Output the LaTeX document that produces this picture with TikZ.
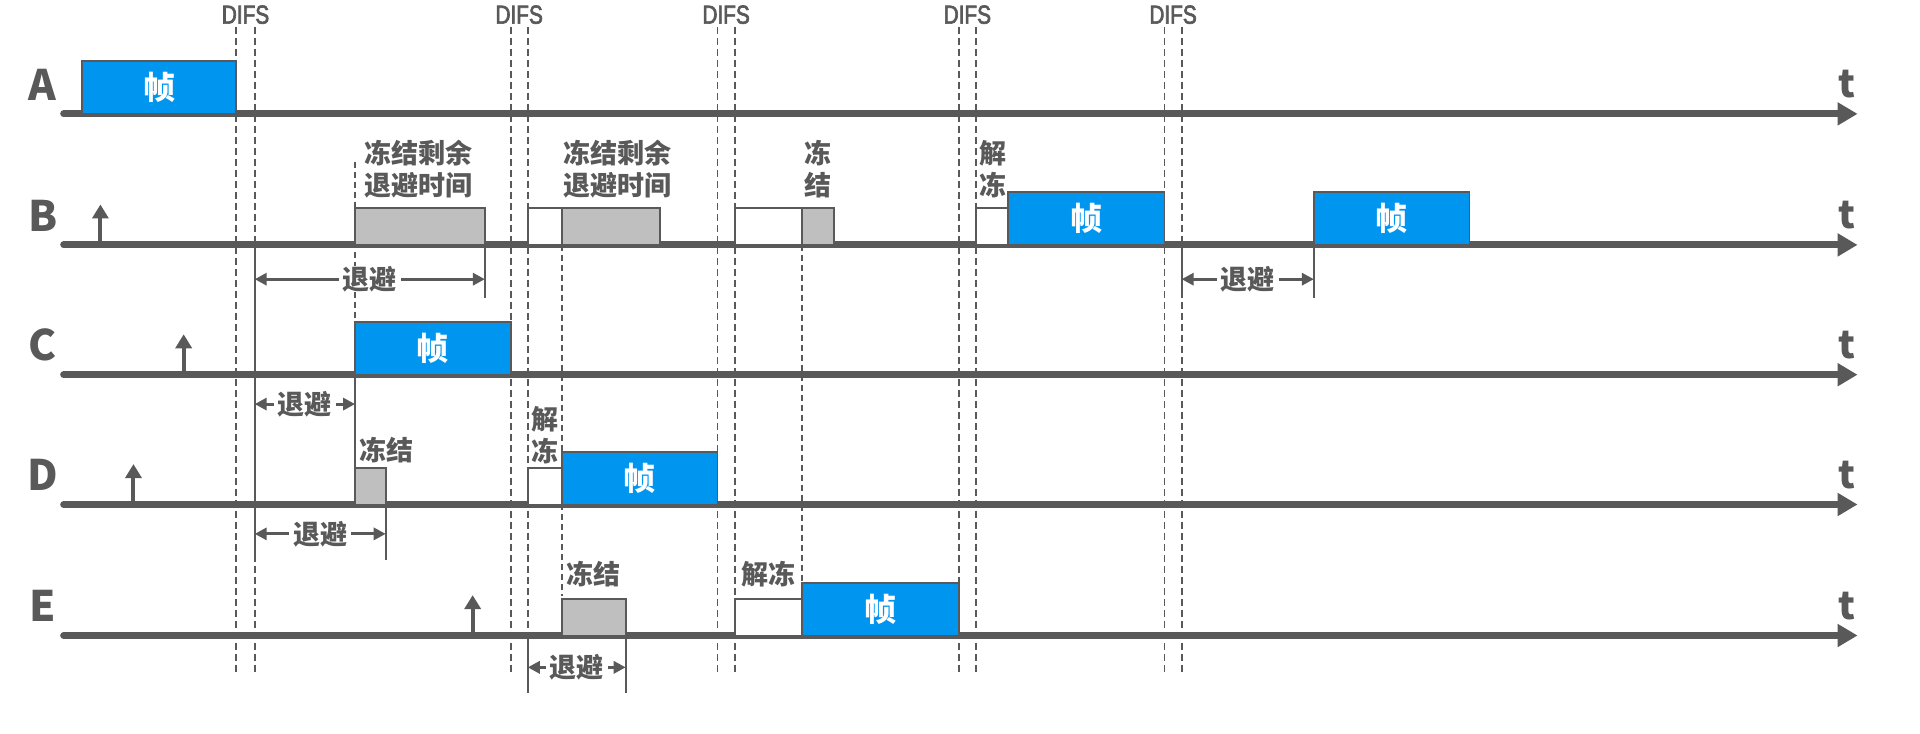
\documentclass[tikz,border=0pt]{standalone}
\usepackage{fontspec}
\setmainfont{Noto Sans CJK SC}
\newfontfamily\narrowfont{Liberation Sans}[FakeStretch=0.8, FakeBold=2.5]
\usetikzlibrary{arrows.meta}
\definecolor{axisgray}{HTML}{595959}
\definecolor{frameblue}{HTML}{0096F0}
\definecolor{frozengray}{HTML}{BFBFBF}
\definecolor{textgray}{HTML}{595959}
\tikzset{
	timeaxis/.style={line width=3.5pt, draw=axisgray, line cap=round, -{Triangle[length=10pt,width=11pt]}},
	difsline/.style={draw=axisgray, line width=0.9pt, dash pattern=on 3.5pt off 2pt},
	guideline/.style={draw=axisgray, line width=0.8pt, dash pattern=on 3pt off 2pt},
	tickline/.style={draw=axisgray, line width=0.9pt},
	framebox/.style={fill=frameblue, draw=axisgray, line width=0.9pt},
	slotbox/.style={draw=axisgray, line width=0.9pt},
	arrivalline/.style={draw=axisgray, line width=2pt, -{Triangle[length=7pt,width=8pt]}},
	backoffline/.style={draw=axisgray, line width=1.5pt, {Triangle[length=6pt,width=6pt]}-{Triangle[length=6pt,width=6pt]}},
	cjklabel/.style={inner sep=0pt, text=textgray, font=\fontsize{13.5}{16}\selectfont\bfseries, align=center},
	backofftext/.style={cjklabel, fill=white, inner xsep=2pt},
	frametext/.style={inner sep=0pt, text=white, font=\fontsize{16}{18}\selectfont\bfseries},
	stationlabel/.style={inner sep=0pt, text=textgray, font=\fontsize{21}{23}\selectfont\bfseries},
	timelabel/.style={inner sep=0pt, text=textgray, font=\fontsize{19}{21}\selectfont\bfseries},
	difslabel/.style={inner sep=0pt, text=textgray, font=\fontsize{13}{14}\selectfont\narrowfont}
}
% blue frame on an axis: name, left x, right x, axis y
\newcommand{\sendframe}[4]{%
	\filldraw[framebox] (#2,#4-43) rectangle (#3,#4);
	\node[frametext] (#1) at ({(#2+#3)/2},#4-21.5) {帧};
}
% short box on an axis: fill, left x, right x, axis y
\newcommand{\waitbox}[4]{%
	\filldraw[slotbox, fill=#1] (#2,#4-30) rectangle (#3,#4);
}
% frame ready to send: name, x, axis y
\newcommand{\arrival}[3]{%
	\coordinate (#1foot) at (#2,#3);
	\coordinate (#1tip) at (#2,#3-33);
	\draw[arrivalline] (#1foot) -- (#1tip);
}
% backoff span: name, from x, to x, y
\newcommand{\backoff}[4]{%
	\coordinate (#1l) at (#2,#4);
	\coordinate (#1r) at (#3,#4);
	\draw[backoffline] (#1l) -- (#1r) node[midway, backofftext] (#1) {退避};
}

\begin{document}
\begin{tikzpicture}[x=0.6123pt,y=-0.6123pt]
	% canvas, same size as the 1568 x 599 sketch
	\path[use as bounding box] (0,0) rectangle (1568,599);
	\fill[white] (0,0) rectangle (1568,599);

	% DIFS pairs
	\foreach \xa/\xb [count=\i] in {193/208,417/431,586/600,783/797,951/965} {
		\node[difslabel] (difs\i) at ({(\xa+\xb)/2},12) {DIFS};
		\draw[difsline] (\xa,22) -- (\xa,551);
		\draw[difsline] (\xb,22) -- (\xb,551);
	}

	% guides from frozen boxes down to the next frame
	\draw[guideline] (290,132) -- (290,263);
	\draw[guideline] (459,200) -- (459,370);
	\draw[guideline] (459,412) -- (459,487);
	\draw[guideline] (655,200) -- (655,476);

	% backoff ticks
	\draw[tickline] (208,200) -- (208,457);
	\draw[tickline] (396,200) -- (396,243);
	\draw[tickline] (290,306) -- (290,383);
	\draw[tickline] (315,412) -- (315,457);
	\draw[tickline] (431,519) -- (431,566);
	\draw[tickline] (511,519) -- (511,566);
	\draw[tickline] (965,200) -- (965,243);
	\draw[tickline] (1073,200) -- (1073,243);

	% stations and time axes
	\foreach \name/\y in {A/93,B/200,C/306,D/412,E/519} {
		\node[stationlabel] (\name) at (35,\y-24) {\name};
		\coordinate (\name start) at (52,\y);
		\coordinate (\name end) at (1517,\y);
		\draw[timeaxis] (\name start) -- (\name end);
		\node[timelabel] (t\name) at (1508,\y-24) {t};
	}

	% A
	\sendframe{fA}{67}{193}{93}

	% B
	\arrival{arrB}{82}{200}
	\waitbox{frozengray}{290}{396}{200}
	\waitbox{white}{431}{459}{200}
	\waitbox{frozengray}{459}{539}{200}
	\waitbox{white}{600}{655}{200}
	\waitbox{frozengray}{655}{681}{200}
	\waitbox{white}{797}{823}{200}
	\sendframe{fBa}{823}{951}{200}
	\sendframe{fBb}{1073}{1200}{200}
	\node[cjklabel] (frzBa) at (342,138) {冻结剩余\\退避时间};
	\node[cjklabel] (frzBb) at (504,138) {冻结剩余\\退避时间};
	\node[cjklabel] (frzBc) at (668,138) {冻\\结};
	\node[cjklabel] (thwB) at (811,138) {解\\冻};
	\backoff{boB}{208}{396}{228}
	\backoff{boBb}{965}{1073}{228}

	% C
	\arrival{arrC}{150}{306}
	\sendframe{fC}{290}{417}{306}
	\backoff{boC}{208}{290}{330}

	% D
	\arrival{arrD}{109}{412}
	\waitbox{frozengray}{290}{315}{412}
	\waitbox{white}{431}{459}{412}
	\sendframe{fD}{459}{586}{412}
	\node[cjklabel] (frzD) at (316,368) {冻结};
	\node[cjklabel] (thwD) at (445,355) {解\\冻};
	\backoff{boD}{208}{315}{436}

	% E
	\arrival{arrE}{386}{519}
	\waitbox{frozengray}{459}{511}{519}
	\waitbox{white}{600}{655}{519}
	\sendframe{fE}{655}{783}{519}
	\node[cjklabel] (frzE) at (485,469) {冻结};
	\node[cjklabel] (thwE) at (628,469) {解冻};
	\backoff{boE}{431}{511}{545}
\end{tikzpicture}
\end{document}
